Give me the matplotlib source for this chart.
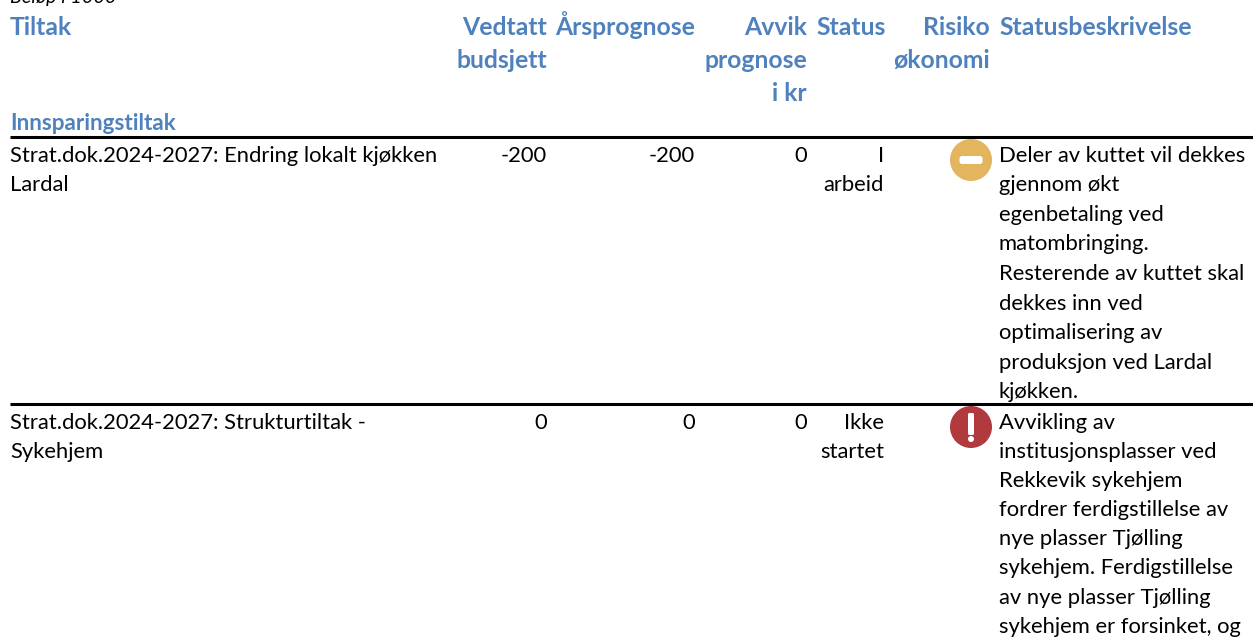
import matplotlib
matplotlib.use("Agg")
import matplotlib.pyplot as plt
from matplotlib.patches import Circle, FancyBboxPatch

plt.rcParams['font.family'] = ['Lato', 'DejaVu Sans']

BLUE = "#4F81BD"
W, H = 1253, 637

# data
note = "Beløp i 1000"
group = "Innsparingstiltak"
headers = ["Tiltak", "Vedtatt\nbudsjett", "Årsprognose", "Avvik\nprognose\ni kr",
           "Status", "Risiko\nøkonomi", "Statusbeskrivelse"]
tiltak = ["Strat.dok.2024-2027: Endring lokalt kjøkken\nLardal",
          "Strat.dok.2024-2027: Strukturtiltak -\nSykehjem"]
budsjett = [-200, 0]
prognose = [-200, 0]
avvik = [0, 0]
status = ["I\narbeid", "Ikke\nstartet"]
risiko = ["medium", "high"]
beskrivelse = [
    ["Deler av kuttet vil dekkes", "gjennom økt", "egenbetaling ved", "matombringing.",
     "Resterende av kuttet skal", "dekkes inn ved", "optimalisering av",
     "produksjon ved Lardal", "kjøkken."],
    ["Avvikling av", "institusjonsplasser ved", "Rekkevik sykehjem",
     "fordrer ferdigstillelse av", "nye plasser Tjølling",
     "sykehjem. Ferdigstillelse", "av nye plasser Tjølling",
     "sykehjem er forsinket, og"],
]

# layout in pixels
col_x = [10, 547, 695, 807, 816, 990, 999]
col_ha = ["left", "right", "right", "right", "left", "right", "left"]
status_right = 884
row_rule = [137, 404]
row_base = [161.5, 429]
row_line_h = [29.6, 29.1]
icon_x = 971
head_h = 33
body_fs = 15.8
head_fs = 17.8

fig = plt.figure(figsize=(W / 100, H / 100), dpi=100)
ax = fig.add_axes([0, 0, 1, 1])
ax.set_xlim(0, W)
ax.set_ylim(H, 0)
ax.axis('off')


def multiline(x, y, lines, line_h, ha="left"):
    for i, line in enumerate(lines):
        ax.text(x, y + i * line_h, line, ha=ha, va='baseline', fontsize=body_fs, color='black')


def draw_icon(x, y, kind):
    if kind == "medium":
        ax.add_patch(Circle((x, y), 21, fc="#E3B55F", ec='none'))
        ax.add_patch(FancyBboxPatch((x - 9, y - 1.5), 18, 3, boxstyle="round,pad=2.5",
                                    fc='white', ec='none'))
    else:
        ax.add_patch(Circle((x, y), 21, fc="#B03A3E", ec='none'))
        ax.add_patch(FancyBboxPatch((x - 1.5, y - 12.5), 3, 19, boxstyle="round,pad=1.5",
                                    fc='white', ec='none'))
        ax.add_patch(Circle((x, y + 12), 3, fc='white', ec='none'))


ax.text(10, 3, note, style='italic', fontsize=14.2, va='baseline', color='black')

for x, ha, head in zip(col_x, col_ha, headers):
    for i, line in enumerate(head.split("\n")):
        ax.text(x, 35 + i * head_h, line, ha=ha, va='baseline', fontsize=head_fs,
                fontweight='bold', color=BLUE)

ax.text(10, 130, group, fontsize=16.2, fontweight='bold', color=BLUE, va='baseline')

for r in range(len(tiltak)):
    base = row_base[r]
    lh = row_line_h[r]
    ax.plot([10, W], [row_rule[r], row_rule[r]], color='black', lw=2.2, solid_capstyle='butt')
    multiline(col_x[0], base, tiltak[r].split("\n"), lh)
    multiline(col_x[1], base, [str(budsjett[r])], lh, ha="right")
    multiline(col_x[2], base, [str(prognose[r])], lh, ha="right")
    multiline(col_x[3], base, [str(avvik[r])], lh, ha="right")
    multiline(status_right, base, status[r].split("\n"), lh, ha="right")
    draw_icon(icon_x, row_rule[r] + 23, risiko[r])
    multiline(col_x[6], base, beskrivelse[r], lh)

fig.savefig("out.png", dpi=100)
